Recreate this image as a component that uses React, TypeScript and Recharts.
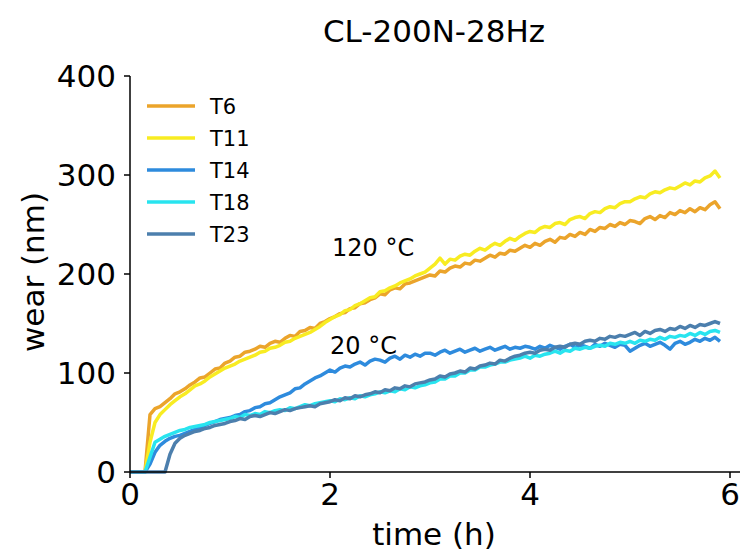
import { LineChart, Line, XAxis, YAxis } from "recharts";

// time (h), sampled every 0.05 h
const time = [
  0, 0.05, 0.1, 0.15, 0.2, 0.25, 0.3, 0.35, 0.4, 0.45, 0.5, 0.55, 0.6, 0.65, 0.7, 0.75, 0.8, 0.85, 0.9, 0.95,
  1, 1.05, 1.1, 1.15, 1.2, 1.25, 1.3, 1.35, 1.4, 1.45, 1.5, 1.55, 1.6, 1.65, 1.7, 1.75, 1.8, 1.85, 1.9, 1.95,
  2, 2.05, 2.1, 2.15, 2.2, 2.25, 2.3, 2.35, 2.4, 2.45, 2.5, 2.55, 2.6, 2.65, 2.7, 2.75, 2.8, 2.85, 2.9, 2.95,
  3, 3.05, 3.1, 3.15, 3.2, 3.25, 3.3, 3.35, 3.4, 3.45, 3.5, 3.55, 3.6, 3.65, 3.7, 3.75, 3.8, 3.85, 3.9, 3.95,
  4, 4.05, 4.1, 4.15, 4.2, 4.25, 4.3, 4.35, 4.4, 4.45, 4.5, 4.55, 4.6, 4.65, 4.7, 4.75, 4.8, 4.85, 4.9, 4.95,
  5, 5.05, 5.1, 5.15, 5.2, 5.25, 5.3, 5.35, 5.4, 5.45, 5.5, 5.55, 5.6, 5.65, 5.7, 5.75, 5.8, 5.85, 5.9,
];

// wear (nm), 120 °C
const t6 = [
  0, 0, 0, 0, 58, 64, 66, 70, 74, 79, 81, 84, 88, 91, 95, 96, 100, 104, 105, 110,
  112, 116, 117, 121, 122, 124, 127, 126, 130, 132, 131, 135, 138, 137, 142, 143, 146, 145, 150, 152,
  155, 157, 160, 161, 165, 166, 170, 171, 174, 176, 180, 179, 184, 186, 185, 190, 191, 193, 195, 197,
  199, 198, 203, 202, 206, 208, 207, 211, 210, 214, 213, 216, 219, 217, 221, 220, 224, 223, 226, 229,
  227, 231, 229, 233, 235, 232, 237, 236, 240, 238, 242, 240, 245, 243, 247, 246, 250, 248, 252, 250,
  254, 253, 251, 256, 258, 255, 259, 257, 262, 260, 264, 262, 266, 263, 267, 265, 270, 273, 266,
];
const t11 = [
  0, 0, 0, 0, 30, 50, 58, 63, 68, 72, 76, 79, 83, 87, 89, 92, 96, 99, 102, 105,
  107, 109, 112, 114, 116, 118, 121, 122, 125, 126, 128, 131, 132, 135, 137, 139, 141, 144, 147, 151,
  154, 157, 159, 163, 164, 168, 170, 173, 176, 177, 182, 183, 186, 188, 191, 193, 195, 198, 200, 202,
  206, 210, 216, 210, 215, 214, 218, 220, 219, 223, 226, 224, 228, 231, 229, 233, 236, 234, 238, 241,
  243, 242, 246, 248, 247, 251, 252, 250, 255, 257, 258, 256, 261, 263, 262, 266, 268, 267, 271, 273,
  273, 276, 278, 277, 281, 283, 282, 285, 287, 286, 289, 292, 290, 294, 293, 297, 299, 304, 297,
];

// wear (nm), 20 °C
const t14 = [
  0, 0, 0, 0, 8, 20, 27, 31, 34, 36, 37, 39, 41, 43, 45, 47, 49, 51, 53, 54,
  55, 57, 58, 61, 62, 65, 66, 69, 70, 73, 76, 78, 80, 84, 85, 89, 92, 95, 97, 100,
  103, 101, 105, 107, 106, 109, 111, 108, 112, 114, 113, 111, 115, 117, 114, 118, 116, 119, 117, 120,
  120, 118, 121, 123, 120, 122, 124, 121, 123, 125, 122, 124, 126, 123, 125, 127, 124, 126, 125, 127,
  126, 124, 127, 125, 128, 126, 124, 127, 129, 126, 128, 127, 125, 129, 127, 130, 128, 126, 129, 128,
  122, 125, 128, 130, 127, 129, 131, 128, 124, 130, 132, 129, 131, 134, 132, 135, 133, 136, 132,
];
const t18 = [
  0, 0, 0, 0, 15, 30, 33, 36, 38, 40, 42, 43, 45, 46, 47, 48, 50, 51, 52, 53,
  54, 56, 55, 58, 57, 59, 58, 61, 60, 62, 63, 62, 65, 64, 66, 68, 67, 69, 70, 71,
  72, 71, 74, 73, 75, 74, 77, 76, 78, 79, 81, 80, 82, 81, 84, 83, 86, 85, 87, 88,
  90, 91, 94, 94, 97, 97, 100, 100, 103, 103, 106, 106, 108, 109, 111, 111, 113, 114, 115, 117,
  115, 118, 117, 119, 120, 122, 120, 123, 122, 125, 124, 126, 125, 127, 128, 127, 130, 129, 131, 130,
  132, 130, 133, 132, 134, 133, 136, 134, 137, 136, 138, 137, 140, 138, 141, 139, 142, 143, 141,
];
const t23 = [
  0, 0, 0, 0, 0, 0, 0, 0, 18, 29, 34, 37, 39, 41, 42, 44, 45, 47, 48, 49,
  51, 52, 54, 53, 56, 57, 56, 58, 60, 59, 61, 63, 62, 64, 65, 66, 67, 66, 69, 70,
  71, 73, 72, 75, 74, 77, 76, 78, 79, 81, 80, 83, 82, 85, 84, 87, 86, 89, 90, 91,
  93, 94, 97, 96, 99, 100, 102, 101, 105, 104, 107, 108, 110, 109, 113, 112, 115, 117, 118, 120,
  121, 120, 123, 124, 123, 126, 127, 126, 129, 130, 129, 132, 133, 132, 135, 134, 137, 136, 138, 137,
  139, 141, 138, 142, 140, 143, 144, 142, 145, 144, 147, 145, 148, 146, 149, 148, 150, 152, 150,
];

const xTicks = [0, 2, 4, 6];
const yTicks = [0, 100, 200, 300, 400];

const series = [
  { key: "T6", values: t6, color: "#EBA42B" },
  { key: "T11", values: t11, color: "#F8EC22" },
  { key: "T14", values: t14, color: "#2E8BDD" },
  { key: "T18", values: t18, color: "#28E4EF" },
  { key: "T23", values: t23, color: "#4C7FAD" },
];

const data = time.map((t, i) => {
  const row: Record<string, number> = { t };
  series.forEach((s) => {
    row[s.key] = s.values[i];
  });
  return row;
});

const FONT = "'DejaVu Sans', sans-serif";

export default function App() {
  return (
    <div style={{ position: "absolute", left: 0, top: 0, width: 740, height: 554, background: "#fff" }}>
      <LineChart
        width={740}
        height={554}
        data={data}
        margin={{ top: 76, right: 0, left: 0, bottom: 0 }}
      >
        <XAxis
          dataKey="t"
          type="number"
          domain={[0, 6.1]}
          ticks={xTicks}
          height={82}
          tickSize={6}
          tickMargin={5}
          axisLine={{ stroke: "#000", strokeWidth: 1.5 }}
          tickLine={{ stroke: "#000", strokeWidth: 1.5 }}
          tick={{ fontSize: 31, fill: "#000", fontFamily: FONT }}
        />
        <YAxis
          type="number"
          domain={[0, 400]}
          ticks={yTicks}
          width={130}
          tickSize={6}
          tickMargin={8}
          axisLine={{ stroke: "#000", strokeWidth: 1.5 }}
          tickLine={{ stroke: "#000", strokeWidth: 1.5 }}
          tick={{ fontSize: 31, fill: "#000", fontFamily: FONT }}
        />
        {series.map((s) => (
          <Line
            key={s.key}
            dataKey={s.key}
            stroke={s.color}
            strokeWidth={3.5}
            strokeLinejoin="round"
            dot={false}
            type="linear"
            isAnimationActive={false}
          />
        ))}
      </LineChart>
      <svg
        width={740}
        height={554}
        style={{ position: "absolute", left: 0, top: 0, pointerEvents: "none" }}
        fontFamily={FONT}
      >
        <text x={434} y={42} textAnchor="middle" fontSize={31}>
          CL-200N-28Hz
        </text>
        <text x={434} y={545} textAnchor="middle" fontSize={31}>
          time (h)
        </text>
        <text
          transform="translate(44,272) rotate(-90)"
          textAnchor="middle"
          fontSize={31}
        >
          wear (nm)
        </text>
        <text x={332} y={256} fontSize={24}>
          120 °C
        </text>
        <text x={330} y={354} fontSize={24}>
          20 °C
        </text>
        {series.map((s, i) => (
          <g key={s.key}>
            <line x1={147} x2={195} y1={106 + i * 32} y2={106 + i * 32} stroke={s.color} strokeWidth={3.5} />
            <text x={210} y={114 + i * 32} fontSize={21}>
              {s.key}
            </text>
          </g>
        ))}
      </svg>
    </div>
  );
}
